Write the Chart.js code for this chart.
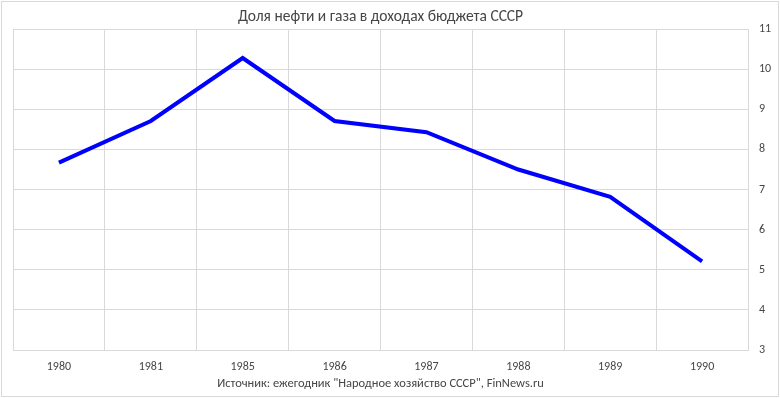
<!DOCTYPE html>
<html>
<head>
<meta charset="utf-8">
<title>Доля нефти и газа в доходах бюджета СССР</title>
<script src="https://cdn.jsdelivr.net/npm/chart.js@4.4.1/dist/chart.umd.min.js"></script>
<style>
  html, body { margin: 0; padding: 0; background: #fff; }
  #box { width: 780px; height: 398px; }
</style>
</head>
<body>
<div id="box"><canvas id="share"></canvas></div>
<script>
var years = ['1980', '1981', '1985', '1986', '1987', '1988', '1989', '1990'];
var shares = [7.67, 8.71, 10.28, 8.71, 8.43, 7.50, 6.82, 5.21];
var yMin = 3;
var yMax = 11;
var chartTitle = 'Доля нефти и газа в доходах бюджета СССР';
var sourceNote = 'Источник: ежегодник "Народное хозяйство СССР", FinNews.ru';

var textColor = '#464646';
var gridColor = '#d9d9d9';
var fontFamily = "Calibri, Carlito, 'Liberation Sans', Arial, sans-serif";

// white background and thin frame round the whole chart
var frame = {
  id: 'frame',
  beforeDraw: function (chart) {
    var ctx = chart.ctx;
    ctx.save();
    ctx.fillStyle = '#fff';
    ctx.fillRect(0, 0, chart.width, chart.height);
    ctx.strokeStyle = gridColor;
    ctx.lineWidth = 1;
    ctx.strokeRect(1.5, 1.5, chart.width - 3, chart.height - 3);
    ctx.restore();
  }
};

function load_share_chart(canvas) {
  new Chart(canvas, {
    type: 'line',
    data: {
      labels: years,
      datasets: [{
        label: chartTitle,
        data: shares,
        borderColor: '#0000ff',
        backgroundColor: '#0000ff',
        borderWidth: 4,
        pointRadius: 0,
        pointHoverRadius: 0,
        tension: 0,
        fill: false
      }]
    },
    options: {
      responsive: true,
      maintainAspectRatio: false,
      animation: false,
      layout: { padding: { left: 13, right: 0, top: 0, bottom: 0 } },
      plugins: {
        legend: { display: false },
        tooltip: { enabled: false },
        title: {
          display: true,
          fullSize: false,
          text: chartTitle,
          color: textColor,
          font: { family: fontFamily, size: 15.5, weight: 'normal' },
          padding: { top: 7.5, bottom: 3 }
        }
      },
      scales: {
        x: {
          offset: true,
          grid: { offset: true, color: gridColor, drawTicks: false },
          border: { color: gridColor },
          ticks: {
            color: textColor,
            font: { family: fontFamily, size: 12 },
            padding: 10,
            maxRotation: 0
          },
          title: {
            display: true,
            text: sourceNote,
            color: textColor,
            font: { family: fontFamily, size: 12.5 },
            padding: { top: 2, bottom: 7 }
          },
          afterFit: function (scale) { scale.height = 48; }
        },
        y: {
          position: 'right',
          min: yMin,
          max: yMax,
          grid: { color: gridColor, drawTicks: false },
          border: { color: gridColor },
          ticks: {
            stepSize: 1,
            color: textColor,
            font: { family: fontFamily, size: 12 },
            padding: 11
          },
          afterFit: function (scale) { scale.width = 32; }
        }
      }
    },
    plugins: [frame]
  });
}

load_share_chart(document.getElementById('share'));
</script>
</body>
</html>
